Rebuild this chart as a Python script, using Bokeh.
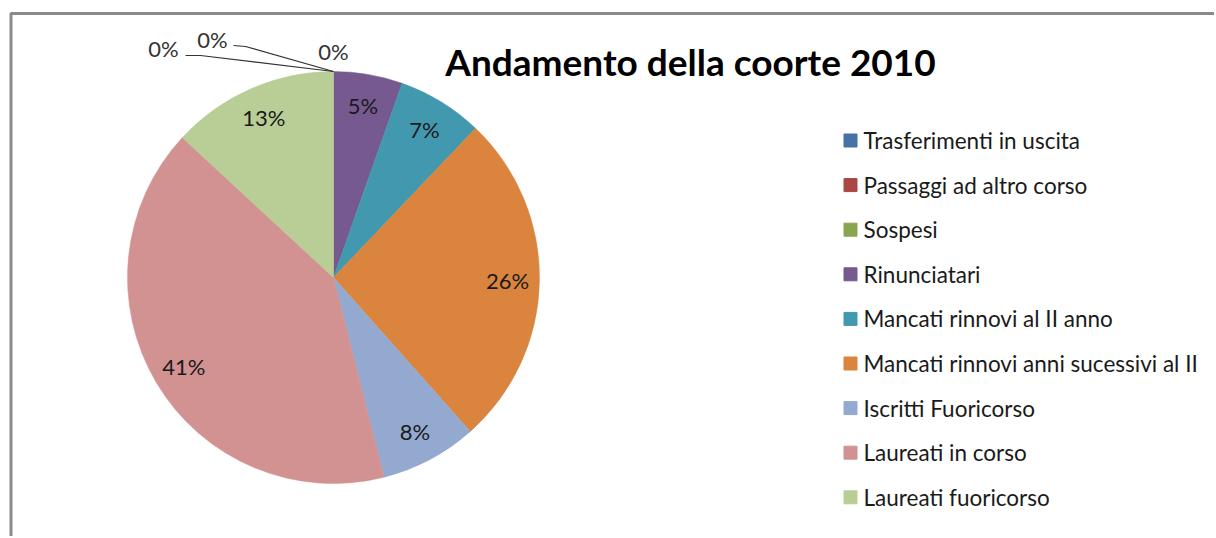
import math
from bokeh.plotting import figure
from bokeh.models import Range1d, ColumnDataSource
from bokeh.core.properties import value
from bokeh.embed import file_html
from bokeh.resources import INLINE

# ---------------- data ----------------
title = "Andamento della coorte 2010"
categories = [
    "Trasferimenti in uscita",
    "Passaggi ad altro corso",
    "Sospesi",
    "Rinunciatari",
    "Mancati rinnovi al II anno",
    "Mancati rinnovi anni sucessivi al II",
    "Iscritti Fuoricorso",
    "Laureati in corso",
    "Laureati fuoricorso",
]
values = [0, 0, 0, 5.4, 6.7, 26.3, 7.6, 40.8, 13.1]
colors = ["#4572A7", "#AA4643", "#89A54E", "#76598F", "#4299AF",
          "#DB843D", "#93A9CF", "#D29291", "#B9CE96"]

# ---------------- layout / style ----------------
W, H = 1214, 536
CX, CY, R = 333, 259, 206
FONT = "Lato"
LABEL_R = 0.845
LEG_X, LEG_TOP, LEG_STEP = 850, 396, 44.6
# offsets (from the pie top point) for labels of empty slices, and their leader lines
zero_label_offsets = [(-170, 23), (-121, 32), (0, 20)]
zero_leader_offsets = [[(-148, 16), (-133, 16), (0, 0)],
                       [(-100, 26), (-88, 25), (0, 0)],
                       None]

p = figure(width=W, height=H, output_backend="svg", toolbar_location=None,
           x_range=Range1d(0, W), y_range=Range1d(0, H),
           min_border=0, min_border_left=0, min_border_right=0,
           min_border_top=0, min_border_bottom=0)
p.axis.visible = False
p.grid.visible = False
p.outline_line_color = None
p.background_fill_color = "white"
p.border_fill_color = "white"

# chart border (top and left edges visible in the picture)
p.line([10.5, 10.5, W + 10], [-10, H - 13, H - 13], line_color="#8A8A8A", line_width=3)

total = float(sum(values))
starts, ends, mids, pcts = [], [], [], []
cum = 0.0
for v in values:
    a0 = math.pi / 2 - cum / total * 2 * math.pi
    cum += v
    a1 = math.pi / 2 - cum / total * 2 * math.pi
    starts.append(a0)
    ends.append(a1)
    mids.append((a0 + a1) / 2)
    pcts.append(v / total * 100)

nz = [i for i, v in enumerate(values) if v > 0]
src = ColumnDataSource(dict(
    x=[CX] * len(nz), y=[CY] * len(nz),
    start=[starts[i] for i in nz], end=[ends[i] for i in nz],
    color=[colors[i] for i in nz],
))
p.wedge(x="x", y="y", radius=R, start_angle="start", end_angle="end",
        direction="clock", fill_color="color", line_color="color",
        line_width=0.5, source=src)

# labels inside slices
lab = ColumnDataSource(dict(
    x=[CX + LABEL_R * R * math.cos(mids[i]) for i in nz],
    y=[CY + LABEL_R * R * math.sin(mids[i]) for i in nz],
    t=["%d%%" % int(math.floor(pcts[i] + 0.5)) for i in nz],
))
p.text(x="x", y="y", text="t", source=lab, text_align="center",
       text_baseline="middle", text_font=value(FONT), text_font_size="22px",
       text_color="#1a1a1a")

# labels of empty slices, with leader lines
zero = [i for i, v in enumerate(values) if v == 0]
for k, i in enumerate(zero):
    ax = CX + R * math.cos(starts[i])
    ay = CY + R * math.sin(starts[i])
    dx, dy = zero_label_offsets[k]
    p.text(x=[ax + dx], y=[ay + dy], text=["%d%%" % round(pcts[i])],
           text_align="center", text_baseline="middle", text_font=value(FONT),
           text_font_size="22px", text_color="#333333")
    if zero_leader_offsets[k]:
        pts = zero_leader_offsets[k]
        p.line([ax + a for a, b in pts], [ay + b for a, b in pts],
               line_color="#333333", line_width=1.2)

# title
p.text(x=[690], y=[H - 61], text=[title], text_align="center", text_baseline="middle",
       text_font=value(FONT), text_font_style="bold", text_font_size="37px",
       text_color="#000000")

# legend
ly = [LEG_TOP - i * LEG_STEP for i in range(len(categories))]
p.scatter(x=[LEG_X] * len(categories), y=ly, marker="square", size=13,
          fill_color=colors, line_color=colors)
p.text(x=[LEG_X + 13] * len(categories), y=ly, text=categories,
       text_align="left", text_baseline="middle", text_font=value(FONT),
       text_font_size="22.5px", text_color="#1a1a1a")

open("out.html", "w").write(file_html(p, INLINE))
